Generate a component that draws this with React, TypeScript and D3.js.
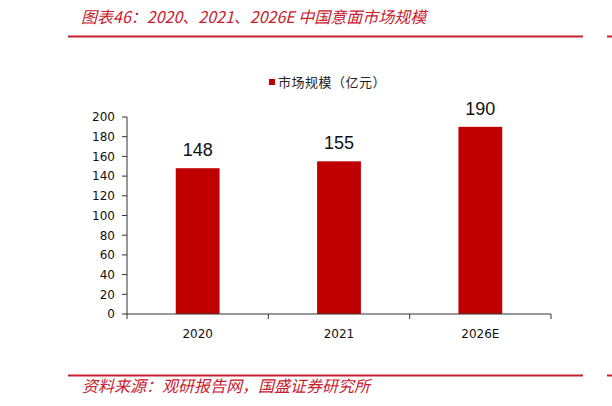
import React from 'react';
import * as d3 from 'd3';

// chart data
const years = ['2020', '2021', '2026E'];
const marketSize = [148, 155, 190];
const yTicks = [0, 20, 40, 60, 80, 100, 120, 140, 160, 180, 200];

const title = '图表46：2020、2021、2026E 中国意面市场规模';
const source = '资料来源：观研报告网，国盛证券研究所';
const legendLabel = '市场规模（亿元）';

const W = 612;
const H = 406;
const RED = '#C00000';
const HEAD_RED = '#C8202F';
const NUM_FONT = '"Liberation Sans", Arial, sans-serif';
const TICK_FONT = '"DejaVu Sans", Verdana, sans-serif';
const CJK_FONT = '"Noto Sans CJK SC", "Noto Sans", sans-serif';

const App: React.FC = () => {
  const plot = { left: 127, right: 551, top: 117, bottom: 314 };

  const x = d3.scaleBand<string>()
    .domain(years)
    .range([plot.left, plot.right])
    .paddingInner(0.69)
    .paddingOuter(0.345);

  const y = d3.scaleLinear()
    .domain([0, 200])
    .range([plot.bottom, plot.top]);

  const step = x.step();
  const boundaries = d3.range(years.length + 1).map(i => plot.left + i * step);

  return (
    <svg
      width={W}
      height={H}
      style={{ position: 'absolute', left: 0, top: 0, background: '#fff' }}
    >
      {/* header */}
      <text x={81} y={23} fill={HEAD_RED} fontFamily={CJK_FONT} fontStyle="italic" fontSize={16}>
        {title}
      </text>
      <line x1={68} x2={583} y1={36.5} y2={36.5} stroke={HEAD_RED} strokeWidth={2} />
      <line x1={607} x2={612} y1={36.5} y2={36.5} stroke={HEAD_RED} strokeWidth={2} />

      {/* legend */}
      <rect x={269} y={79} width={6} height={6} fill={RED} />
      <text x={278} y={87} fontFamily={CJK_FONT} fontSize={13} letterSpacing={0.5} fill="#222">
        {legendLabel}
      </text>

      {/* bars */}
      {years.map((yr, i) => (
        <g key={yr}>
          <rect
            x={x(yr)}
            y={y(marketSize[i])}
            width={x.bandwidth()}
            height={y(0) - y(marketSize[i])}
            fill={RED}
          />
          <text
            x={(x(yr) ?? 0) + x.bandwidth() / 2}
            y={y(marketSize[i]) - 12}
            textAnchor="middle"
            fontFamily={NUM_FONT}
            fontSize={18}
            fill="#111"
          >
            {marketSize[i]}
          </text>
        </g>
      ))}

      {/* y axis */}
      <line x1={plot.left} x2={plot.left} y1={plot.top} y2={plot.bottom} stroke="#333" />
      {yTicks.map(t => (
        <g key={t}>
          <line x1={plot.left - 5} x2={plot.left} y1={y(t)} y2={y(t)} stroke="#333" />
          <text
            x={plot.left - 12}
            y={y(t)}
            dy="0.36em"
            textAnchor="end"
            fontFamily={TICK_FONT}
            fontSize={12}
            fill="#111"
          >
            {t}
          </text>
        </g>
      ))}

      {/* x axis */}
      <line x1={plot.left} x2={plot.right} y1={plot.bottom} y2={plot.bottom} stroke="#333" />
      {boundaries.map((bx, i) => (
        <line key={i} x1={bx} x2={bx} y1={plot.bottom} y2={plot.bottom + 5} stroke="#333" />
      ))}
      {years.map(yr => (
        <text
          key={yr}
          x={(x(yr) ?? 0) + x.bandwidth() / 2}
          y={338}
          textAnchor="middle"
          fontFamily={TICK_FONT}
          fontSize={12}
          fill="#111"
        >
          {yr}
        </text>
      ))}

      {/* footer */}
      <line x1={68} x2={583} y1={375.5} y2={375.5} stroke={HEAD_RED} strokeWidth={2} />
      <line x1={607} x2={612} y1={375.5} y2={375.5} stroke={HEAD_RED} strokeWidth={2} />
      <text x={82} y={392} fill={HEAD_RED} fontFamily={CJK_FONT} fontStyle="italic" fontSize={16}>
        {source}
      </text>
    </svg>
  );
};

export default App;
